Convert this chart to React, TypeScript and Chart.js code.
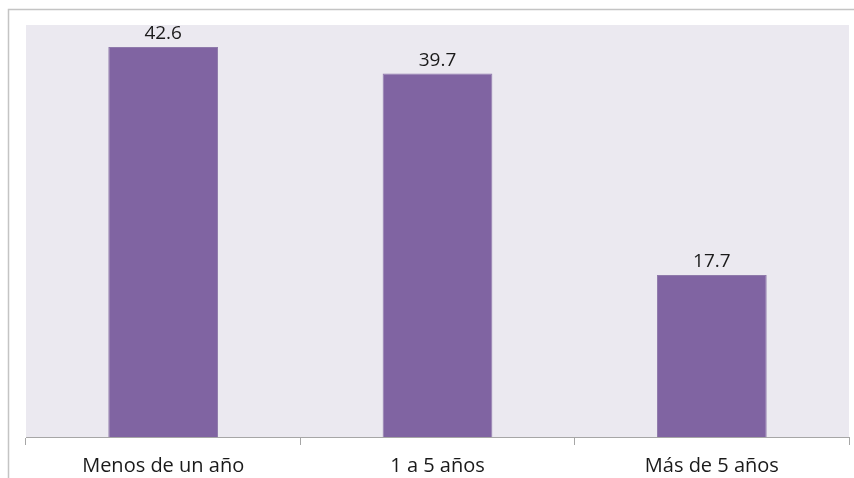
import React, { useEffect, useRef } from "react";
import { Chart, registerables } from "chart.js";

Chart.register(...registerables);

const categories = ["Menos de un año", "1 a 5 años", "Más de 5 años"];
const values = [42.6, 39.7, 17.7];
const valueLabels = ["42.6", "39.7", "17.7"];

const FONT = "'Open Sans', sans-serif";

const framePlugin = {
  id: "frameBg",
  beforeDraw(chart: any) {
    const { ctx, chartArea } = chart;
    ctx.save();
    ctx.fillStyle = "#ffffff";
    ctx.fillRect(0, 0, chart.width, chart.height);
    ctx.strokeStyle = "#c4c4c4";
    ctx.lineWidth = 1.5;
    ctx.beginPath();
    ctx.moveTo(chart.width, 9.5);
    ctx.lineTo(8.5, 9.5);
    ctx.lineTo(8.5, chart.height);
    ctx.stroke();
    ctx.fillStyle = "#ebe9f0";
    ctx.fillRect(chartArea.left, chartArea.top, chartArea.right - chartArea.left, chartArea.bottom - chartArea.top);
    ctx.restore();
  },
};

const valueLabelPlugin = {
  id: "valueLabels",
  afterDatasetsDraw(chart: any) {
    const { ctx } = chart;
    const meta = chart.getDatasetMeta(0);
    ctx.save();
    ctx.font = `19px ${FONT}`;
    ctx.fillStyle = "#1a1a1a";
    ctx.textAlign = "center";
    ctx.textBaseline = "alphabetic";
    meta.data.forEach((bar: any, i: number) => {
      ctx.fillText(valueLabels[i], bar.x, bar.y - 8);
    });
    ctx.restore();
  },
};

export default function App() {
  const ref = useRef<HTMLCanvasElement>(null);
  useEffect(() => {
    if (!ref.current) return;
    const chart = new Chart(ref.current, {
      type: "bar",
      data: {
        labels: categories,
        datasets: [
          {
            data: values,
            backgroundColor: "#8064a2",
            borderColor: "#8f7aab",
            borderWidth: 1,
            categoryPercentage: 1,
            barPercentage: 0.4,
          },
        ],
      },
      options: {
        animation: false,
        responsive: false,
        devicePixelRatio: 1,
        layout: { padding: { left: 26, right: 5, top: 25, bottom: 0 } },
        plugins: { legend: { display: false }, tooltip: { enabled: false } },
        scales: {
          x: {
            afterFit: (s: any) => {
              s.height = 41;
            },
            grid: {
              display: true,
              drawOnChartArea: false,
              drawTicks: true,
              tickLength: 8,
              color: "#a6a6a6",
              offset: true,
            },
            border: { display: true, color: "#a6a6a6" },
            ticks: {
              color: "#1a1a1a",
              padding: 9,
              font: { family: FONT, size: 20 },
              maxRotation: 0,
            },
          },
          y: {
            display: false,
            min: 0,
            max: 45,
          },
        },
      },
      plugins: [framePlugin, valueLabelPlugin],
    });
    return () => chart.destroy();
  }, []);
  return (
    <div style={{ position: "fixed", left: 0, top: 0, width: 854, height: 478 }}>
      <canvas ref={ref} width={854} height={478} style={{ width: 854, height: 478, display: "block" }} />
    </div>
  );
}
